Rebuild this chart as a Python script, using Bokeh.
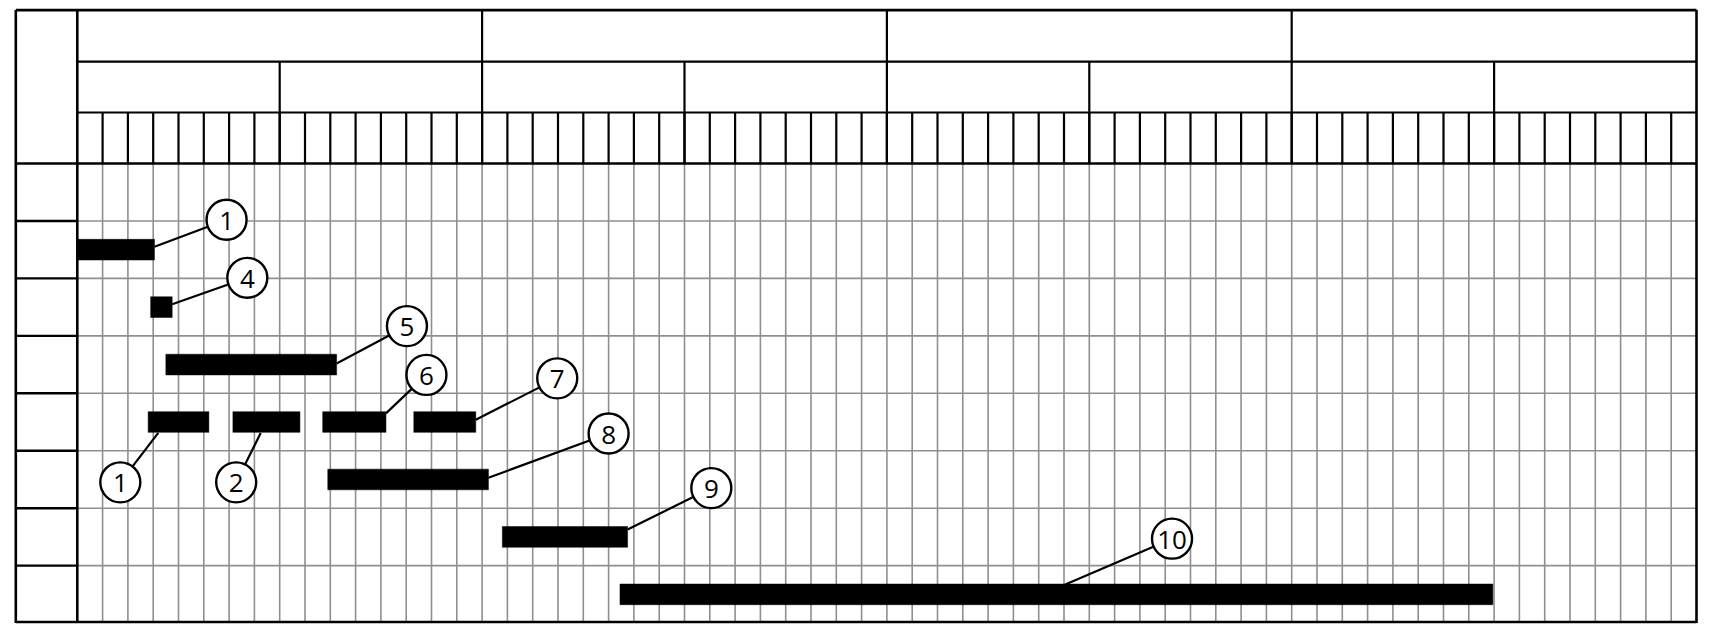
from bokeh.plotting import figure
from bokeh.models import Range1d
from bokeh.core.properties import value
from bokeh.embed import file_html
from bokeh.resources import INLINE

# ---- data (day columns, row indices) ----
task_labels = ["1", "4", "5", "1", "2", "6", "7", "8", "9", "10"]
task_rows = [1, 2, 3, 4, 4, 4, 4, 5, 6, 7]
task_start = [0.0, 2.9, 3.5, 2.8, 6.15, 9.7, 13.3, 9.9, 16.8, 21.45]
task_end = [3.05, 3.75, 10.25, 5.2, 8.8, 12.2, 15.75, 16.25, 21.75, 55.95]

# leader anchor on the bar and label-bubble position
anchor_x = [3.05, 3.75, 10.25, 3.2, 7.25, 12.2, 15.75, 16.25, 21.75, 39.05]
anchor_y = [1.45, 2.45, 3.48, 4.69, 4.69, 4.35, 4.46, 5.47, 6.37, 7.33]
bubble_x = [5.9, 6.72, 13.03, 1.7, 6.28, 13.8, 18.97, 21.0, 25.06, 43.27]
bubble_y = [0.98, 1.99, 2.83, 5.55, 5.55, 3.68, 3.74, 4.7, 5.65, 6.53]

n_days = 64
n_rows = 8
days_per_week = 8
days_per_month = 16

# ---- layout ----
W, H = 1712, 624
col_px, row_px = 25.3, 57.45
x_start = -76.8 / col_px
y_top = -163.0 / row_px
left_edge = -61.5 / col_px
hdr = [-2.670, -1.774, -0.888, 0.0]

p = figure(width=W, height=H, output_backend="svg", toolbar_location=None,
           x_range=Range1d(x_start, x_start + W / col_px),
           y_range=Range1d(y_top + H / row_px, y_top),
           x_axis_location=None, y_axis_location=None, min_border=0)
p.outline_line_color = None
p.xgrid.visible = False
p.ygrid.visible = False
p.background_fill_color = "white"
p.border_fill_color = "white"

grey = "#8f8f8f"
# body grid
vx = list(range(1, n_days))
p.segment(x0=vx, y0=[0] * len(vx), x1=vx, y1=[n_rows] * len(vx), line_color=grey, line_width=1.6)
hy = list(range(1, n_rows))
p.segment(x0=[0] * len(hy), y0=hy, x1=[n_days] * len(hy), y1=hy, line_color=grey, line_width=1.6)
# left column row separators
p.segment(x0=[left_edge] * len(hy), y0=hy, x1=[0] * len(hy), y1=hy, line_color="black", line_width=2.4)

# header grid
dx = [d for d in range(1, n_days)]
p.segment(x0=dx, y0=[hdr[2]] * len(dx), x1=dx, y1=[hdr[3]] * len(dx), line_color="black", line_width=2.2)
wx = [d for d in range(days_per_week, n_days, days_per_week) if d % days_per_month]
p.segment(x0=wx, y0=[hdr[1]] * len(wx), x1=wx, y1=[hdr[3]] * len(wx), line_color="black", line_width=2.2)
mx = list(range(days_per_month, n_days, days_per_month))
p.segment(x0=mx, y0=[hdr[0]] * len(mx), x1=mx, y1=[hdr[3]] * len(mx), line_color="black", line_width=2.2)
p.segment(x0=[0, 0], y0=[hdr[1], hdr[2]], x1=[n_days, n_days], y1=[hdr[1], hdr[2]],
          line_color="black", line_width=2.2)
p.segment(x0=[left_edge], y0=[hdr[3]], x1=[n_days], y1=[hdr[3]], line_color="black", line_width=2.4)
# frame
p.segment(x0=[0], y0=[hdr[0]], x1=[0], y1=[n_rows], line_color="black", line_width=2.6)
p.segment(x0=[left_edge, left_edge, n_days, left_edge],
          y0=[hdr[0], hdr[0], hdr[0], n_rows - 0.02],
          x1=[n_days, left_edge, n_days, n_days],
          y1=[hdr[0], n_rows, n_rows, n_rows - 0.02],
          line_color="black", line_width=2.6)

# bars
bar_h = 0.36
p.quad(left=task_start, right=task_end,
       top=[r + 0.5 - bar_h / 2 for r in task_rows],
       bottom=[r + 0.5 + bar_h / 2 for r in task_rows],
       fill_color="black", line_color="black", line_width=0.5)

# leaders
p.segment(x0=anchor_x, y0=anchor_y, x1=bubble_x, y1=bubble_y, line_color="black", line_width=2.2)
# bubbles
p.scatter(x=bubble_x, y=bubble_y, marker="circle", size=40, fill_color="white",
          line_color="black", line_width=2.4)
p.text(x=bubble_x, y=bubble_y, text=task_labels, text_align="center", text_baseline="middle",
       text_font=value("Open Sans"), text_font_size="26px", text_color="black", y_offset=1)

open("out.html", "w").write(file_html(p, INLINE))
